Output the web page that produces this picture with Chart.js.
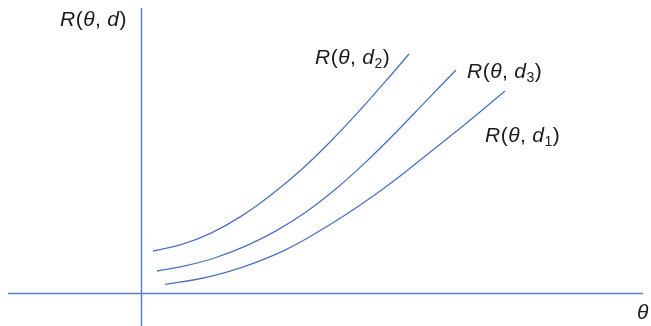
<!DOCTYPE html>
<html>
<head>
<meta charset="utf-8">
<script src="https://cdn.jsdelivr.net/npm/chart.js@4.4.1/dist/chart.umd.min.js"></script>
<style>
html,body{margin:0;padding:0;background:#fff;}
#wrap{width:651px;height:326px;}
</style>
</head>
<body>
<div id="wrap"><canvas id="c" width="651" height="326"></canvas></div>
<script>
// Risk curves R(θ, d_i) against θ (abstract units, origin at axes crossing)
const thetaD2 = [12, 40, 70, 100, 130, 160, 190, 220, 250, 268];
const riskD2  = [42, 48.3, 59.9, 76.6, 98, 123, 152, 184, 218, 239];
const thetaD3 = [16, 45, 75, 105, 135, 165, 195, 225, 255, 285, 315];
const riskD3  = [22, 27.3, 35.5, 47.1, 62.1, 81, 104.2, 131.1, 160.7, 191.9, 223];
const thetaD1 = [24, 55, 85, 115, 145, 175, 205, 235, 265, 295, 325, 364];
const riskD1  = [8.7, 13.5, 20.7, 30.7, 43.4, 60, 78.5, 99, 121.5, 145.5, 169.5, 202];
const seriesNames = ['d1', 'd2', 'd3'];

const LINE = '#4a72c0';
const AXIS = '#5a7fbf';

function pts(xs, ys){ return xs.map((x,i)=>({x:x, y:ys[i]})); }

// Axis extents in data units
const axisLines = {
  hFrom: -133, hTo: 502,   // horizontal θ axis at R = 0
  vFrom: -33, vTo: 285     // vertical R axis at θ = 0
};

// Annotation labels (left x, baseline y in data units): runs of [text, italic, subscript]
const labels = [
  {x: -81, y: 267, runs: [['R',1,0],['(',0,0],['θ',1,0],[', ',0,0],['d',1,0],[')',0,0]]},
  {x: 174, y: 229, runs: [['R',1,0],['(',0,0],['θ',1,0],[', ',0,0],['d',1,0],['2',0,1],[')',0,0]]},
  {x: 326, y: 215, runs: [['R',1,0],['(',0,0],['θ',1,0],[', ',0,0],['d',1,0],['3',0,1],[')',0,0]]},
  {x: 344, y: 151.5, runs: [['R',1,0],['(',0,0],['θ',1,0],[', ',0,0],['d',1,0],['1',0,1],[')',0,0]]},
  {x: 496, y: -26, runs: [['θ',1,0]]}
];

const axesPlugin = {
  id: 'axesLines',
  beforeDatasetsDraw(chart){
    const {ctx, scales:{x, y}} = chart;
    ctx.save();
    ctx.strokeStyle = AXIS;
    ctx.lineWidth = 1.5;
    ctx.beginPath();
    const y0 = Math.round(y.getPixelForValue(0)) + 0.5;
    ctx.moveTo(x.getPixelForValue(axisLines.hFrom), y0);
    ctx.lineTo(x.getPixelForValue(axisLines.hTo), y0);
    const x0 = Math.round(x.getPixelForValue(0)) + 0.5;
    ctx.moveTo(x0, y.getPixelForValue(axisLines.vFrom));
    ctx.lineTo(x0, y.getPixelForValue(axisLines.vTo));
    ctx.stroke();
    ctx.restore();
  }
};

const labelPlugin = {
  id: 'mathLabels',
  afterDatasetsDraw(chart){
    const {ctx, scales:{x, y}} = chart;
    ctx.save();
    ctx.fillStyle = '#1a1a1a';
    ctx.textBaseline = 'alphabetic';
    ctx.textAlign = 'left';
    const size = 21;
    labels.forEach(l => {
      let px = x.getPixelForValue(l.x);
      const py = y.getPixelForValue(l.y);
      l.runs.forEach(([t, it, sub]) => {
        const fs = sub ? 14 : size;
        ctx.font = (it ? 'italic ' : '') + fs + 'px "Liberation Sans", Arial, sans-serif';
        ctx.fillText(t, px, py + (sub ? 4 : 0));
        px += ctx.measureText(t).width + 0.5;
      });
    });
    ctx.restore();
  }
};

const ds = (name, xs, ys) => ({
  label: name,
  data: pts(xs, ys),
  showLine: true,
  borderColor: LINE,
  borderWidth: 1.3,
  pointRadius: 0,
  fill: false,
  tension: 0.4
});

new Chart(document.getElementById('c'), {
  type: 'scatter',
  data: {
    datasets: [
      ds(seriesNames[1], thetaD2, riskD2),
      ds(seriesNames[2], thetaD3, riskD3),
      ds(seriesNames[0], thetaD1, riskD1)
    ]
  },
  options: {
    responsive: false,
    animation: false,
    layout: {padding: 0},
    plugins: {legend: {display: false}, tooltip: {enabled: false}},
    scales: {
      x: {type: 'linear', display: false, min: -141, max: 510},
      y: {type: 'linear', display: false, min: -33, max: 293}
    }
  },
  plugins: [axesPlugin, labelPlugin]
});
</script>
</body>
</html>
